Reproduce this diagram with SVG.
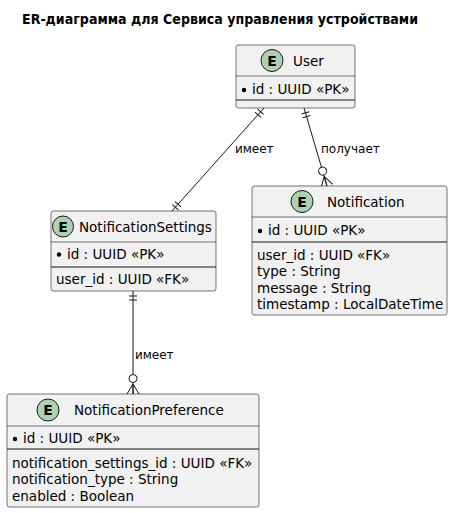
<svg xmlns="http://www.w3.org/2000/svg" width="453" height="513" viewBox="0 0 453 513">
<style>
.box{fill:#F1F1F1;stroke:#181818;stroke-width:0.6}
.hsep{stroke:#181818;stroke-width:0.6}
.asep{stroke:#181818;stroke-width:1.2}
.badge{fill:#ADD1B2;stroke:#181818;stroke-width:1}
.e{font-family:"DejaVu Sans",sans-serif;font-weight:bold;font-size:14px;text-anchor:middle;fill:#000}
.name{font-family:"DejaVu Sans",sans-serif;font-size:13.5px;fill:#000}
.attr{font-family:"DejaVu Sans",sans-serif;font-size:13.5px;fill:#000}
.lbl{font-family:"DejaVu Sans",sans-serif;font-size:12px;fill:#000}
.title{font-family:"DejaVu Sans",sans-serif;font-weight:bold;font-size:13.5px;fill:#000}
.conn{stroke:#181818;stroke-width:1;fill:none}
</style>
<defs>
<marker id="one" viewBox="-20 -10 22 20" refX="0" refY="0" markerWidth="22" markerHeight="20" markerUnits="userSpaceOnUse" orient="auto-start-reverse">
<path d="M-5,-4 V4 M-9,-4 V4" stroke="#181818" stroke-width="1" fill="none"/>
</marker>
<marker id="zeroMany" viewBox="-22 -10 24 20" refX="0" refY="0" markerWidth="24" markerHeight="20" markerUnits="userSpaceOnUse" orient="auto-start-reverse">
<path d="M-10,0 L0,-6 M-10,0 L0,6 M-10,0 L0,0" stroke="#181818" stroke-width="1" fill="none"/>
<circle cx="-15.5" cy="0" r="4" fill="#FFFFFF" stroke="#181818" stroke-width="1"/>
</marker>
</defs>
<rect width="453" height="513" fill="#FFFFFF"/>
<text class="title" x="22" y="24" textLength="396" lengthAdjust="spacingAndGlyphs">ER-диаграмма для Сервиса управления устройствами</text>

<g id="connectors">
<line class="conn" x1="264" y1="108" x2="172" y2="211" marker-start="url(#one)" marker-end="url(#one)"/>
<text class="lbl" x="235" y="153">имеет</text>
<line class="conn" x1="304" y1="108" x2="327" y2="186" marker-start="url(#one)" marker-end="url(#zeroMany)"/>
<text class="lbl" x="321" y="153">получает</text>
<line class="conn" x1="133" y1="291" x2="133" y2="394" marker-start="url(#one)" marker-end="url(#zeroMany)"/>
<text class="lbl" x="135" y="359">имеет</text>
</g>

<g id="User">
<rect class="box" x="236" y="45" width="119" height="63" rx="2.5"/>
<line class="hsep" x1="236" y1="76" x2="355" y2="76"/>
<line class="asep" x1="236" y1="100" x2="355" y2="100"/>
<circle class="badge" cx="272" cy="60.5" r="11"/>
<text class="e" x="272" y="65.5">E</text>
<text class="name" x="293" y="65.5">User</text>
<circle cx="244" cy="90" r="2.2" fill="#000"/>
<text class="attr" x="252" y="94">id : UUID «PK»</text>
</g>

<g id="NotificationSettings">
<rect class="box" x="51" y="211" width="165" height="80" rx="2.5"/>
<line class="hsep" x1="51" y1="242" x2="216" y2="242"/>
<line class="asep" x1="51" y1="267" x2="216" y2="267"/>
<circle class="badge" cx="63" cy="226.5" r="10.5"/>
<text class="e" x="63" y="231.5">E</text>
<text class="name" x="79" y="231.5">NotificationSettings</text>
<circle cx="59" cy="254.5" r="2.2" fill="#000"/>
<text class="attr" x="67" y="258.5">id : UUID «PK»</text>
<text class="attr" x="56" y="284">user_id : UUID «FK»</text>
</g>

<g id="Notification">
<rect class="box" x="252" y="186" width="195" height="129" rx="2.5"/>
<line class="hsep" x1="252" y1="217" x2="447" y2="217"/>
<line class="asep" x1="252" y1="242" x2="447" y2="242"/>
<circle class="badge" cx="302" cy="201.5" r="11"/>
<text class="e" x="302" y="206.5">E</text>
<text class="name" x="327" y="206.5">Notification</text>
<circle cx="260" cy="231" r="2.2" fill="#000"/>
<text class="attr" x="268" y="235">id : UUID «PK»</text>
<text class="attr" x="257" y="260">user_id : UUID «FK»</text>
<text class="attr" x="257" y="276.3">type : String</text>
<text class="attr" x="257" y="292.6">message : String</text>
<text class="attr" x="257" y="309">timestamp : LocalDateTime</text>
</g>

<g id="NotificationPreference">
<rect class="box" x="7" y="394" width="252" height="113" rx="2.5"/>
<line class="hsep" x1="7" y1="426" x2="259" y2="426"/>
<line class="asep" x1="7" y1="449" x2="259" y2="449"/>
<circle class="badge" cx="48" cy="410" r="11"/>
<text class="e" x="48" y="415">E</text>
<text class="name" x="74" y="415">NotificationPreference</text>
<circle cx="15" cy="439" r="2.2" fill="#000"/>
<text class="attr" x="23" y="443">id : UUID «PK»</text>
<text class="attr" x="12" y="468">notification_settings_id : UUID «FK»</text>
<text class="attr" x="12" y="484.3">notification_type : String</text>
<text class="attr" x="12" y="500.6">enabled : Boolean</text>
</g>
</svg>
